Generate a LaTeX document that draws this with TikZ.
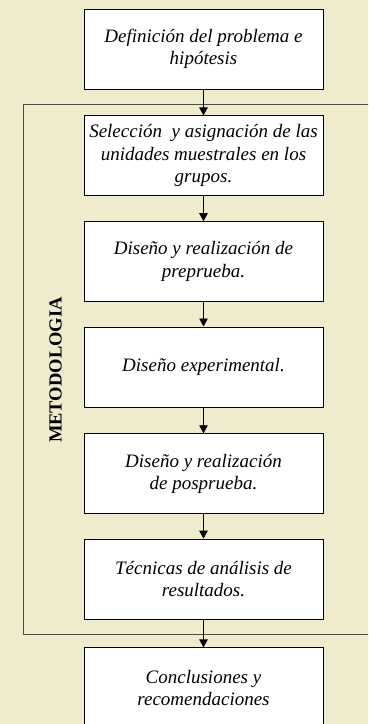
\documentclass[tikz,border=0pt]{standalone}
\usepackage{fontspec}
\setmainfont{Liberation Serif}
\usetikzlibrary{positioning,arrows.meta}
\definecolor{papel}{RGB}{238,236,204}
\tikzset{
	paso/.style = {
		draw = black,
		fill = white,
		rectangle,
		line width = 0.8pt,
		align = center,
		font = \fontsize{19}{22.5}\selectfont\itshape,
		minimum height = 80pt,
		minimum width = 239pt
	},
	flecha/.style = {
		-{Triangle[length=8pt,width=8.5pt]},
		line width = 0.8pt
	},
	marco/.style = {
		draw = black!70,
		line width = 0.9pt
	}
}
\begin{document}
\begin{tikzpicture}[x=1pt,y=1pt,node distance=26pt]
    \fill [papel] (0,0) rectangle (368,-724) ;
    \clip (0,0) rectangle (368,-724) ;

    \node [paso] (def) at (203.5,-49) {Definición del problema e\\ hipótesis} ;
    \node [paso, below = of def] (sel) {Selección~ y asignación de las\\ unidades muestrales en los\\ grupos.} ;
    \node [paso, below = 25pt of sel] (pre) {Diseño y realización de\\ preprueba.} ;
    \node [paso, below = 24.5pt of pre] (exp) {Diseño experimental.} ;
    \node [paso, below = of exp] (pos) {Diseño y realización\\ de posprueba.} ;
    \node [paso, below = 24.5pt of pos] (tec) {Técnicas de análisis de\\ resultados.} ;
    \node [paso, below = 28pt of tec] (con) {Conclusiones y\\ recomendaciones} ;

    % recuadro de la metodologia
    \coordinate (m1) at (23,-104) ;
    \coordinate (m2) at (380,-634) ;
    \draw [marco] (m1) rectangle (m2) ;
    \node [rotate=90, font=\fontsize{18.5}{22}\selectfont\bfseries] (met) at (55.5,-370) {METODOLOGIA} ;

    \draw [flecha] (def) -- (sel) ;
    \draw [flecha] (sel) -- (pre) ;
    \draw [flecha] (pre) -- (exp) ;
    \draw [flecha] (exp) -- (pos) ;
    \draw [flecha] (pos) -- (tec) ;
    \draw [flecha] (tec) -- (con) ;
\end{tikzpicture}
\end{document}
